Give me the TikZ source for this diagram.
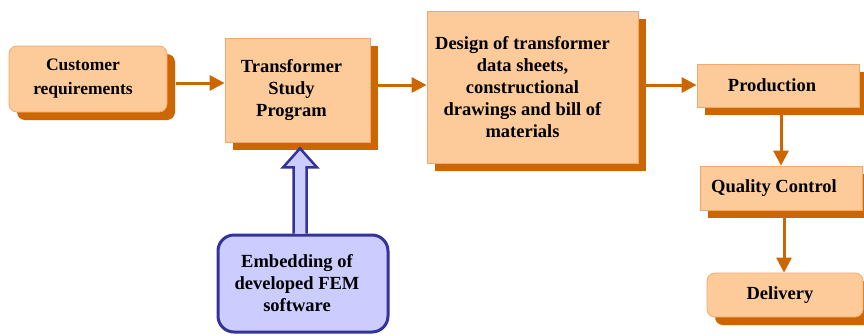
\documentclass[tikz,border=0pt]{standalone}
\usepackage{fontspec}
\setmainfont{Liberation Serif}
\usetikzlibrary{shadows,arrows.meta,calc}
\definecolor{peach}{RGB}{252,203,153}
\definecolor{peachedge}{RGB}{240,168,110}
\definecolor{shadowc}{RGB}{204,102,0}
\definecolor{lav}{RGB}{204,204,255}
\definecolor{navy}{RGB}{51,51,153}
\tikzset{
  box/.style={draw=peachedge, line width=0.8pt, fill=peach, inner sep=0pt,
    align=center, font=\fontsize{18.5}{22}\selectfont\bfseries,
    copy shadow={shadow xshift=8pt, shadow yshift=-8pt, fill=shadowc, draw=none}},
  rbox/.style={box, rounded corners=8pt},
  arr/.style={draw=shadowc, line width=3pt, -{Triangle[length=15pt,width=15pt]}},
  embbox/.style={draw=navy, line width=3pt, fill=lav, rounded corners=16pt,
    align=center, font=\fontsize{18.5}{22}\selectfont\bfseries, inner sep=0pt},
  blockarrow/.style={draw=navy, line width=2.5pt, fill=lav, line join=miter}
}
\begin{document}
\begin{tikzpicture}[x=1pt,y=1pt]
\useasboundingbox (0,0) rectangle (864,-335);
\node[rbox, minimum width=158pt, minimum height=66pt, font=\fontsize{17.5}{24}\selectfont\bfseries] (cust) at (88,-79) {\hspace*{-10pt}Customer\\\hspace*{-10pt}requirements};
\node[box, minimum width=145pt, minimum height=104pt] (tsp) at (297.5,-90) {\hspace*{-12pt}Transformer\\\hspace*{-12pt}Study\\\hspace*{-12pt}Program};
\node[box, minimum width=211pt, minimum height=152pt] (des) at (532.5,-87) {\hspace*{-20pt}Design of transformer\\\hspace*{-20pt}data sheets,\\\hspace*{-20pt}constructional\\\hspace*{-20pt}drawings and bill of\\\hspace*{-20pt}materials};
\node[box, minimum width=162pt, minimum height=43pt] (prod) at (778,-85.5) {\hspace*{-12pt}Production};
\node[box, minimum width=162pt, minimum height=44pt] (qc) at (781,-188) {\hspace*{-14pt}Quality Control};
\node[rbox, minimum width=156pt, minimum height=44pt] (deliv) at (785,-295) {\hspace*{-10pt}Delivery};
\node[embbox, minimum width=170pt, minimum height=97pt] (emb) at (303,-283.5) {\hspace*{-12pt}Embedding of\\\hspace*{-12pt}developed FEM\\\hspace*{-12pt}software};
% connectors
\coordinate (a1) at ($(cust.east)+(9,-4)$);
\draw[arr] (a1) -- (a1 -| tsp.west);
\coordinate (a2) at ($(tsp.east)+(8,5)$);
\draw[arr] (a2) -- (a2 -| des.west);
\coordinate (a3) at ($(des.east)+(8,2)$);
\draw[arr] (a3) -- (a3 -| prod.west);
\coordinate (a4) at ($(prod.south)+(3,-8)$);
\draw[arr] (a4) -- (a4 |- qc.north);
\coordinate (a5) at ($(qc.south)+(3,-8)$);
\draw[arr] (a5) -- (a5 |- deliv.north);
% block arrow
\coordinate (b0) at ($(emb.north)+(-3,0)$);
\coordinate (bt) at ($(tsp.south)+(2.5,-6)$);
\draw[blockarrow] ($(b0)+(-6.5,0)$) -- ($(b0 |- bt)+(-6.5,-19)$) -- ($(b0 |- bt)+(-17,-19)$)
  -- (b0 |- bt) -- ($(b0 |- bt)+(17,-19)$) -- ($(b0 |- bt)+(6.5,-19)$) -- ($(b0)+(6.5,0)$);
\end{tikzpicture}
\end{document}
